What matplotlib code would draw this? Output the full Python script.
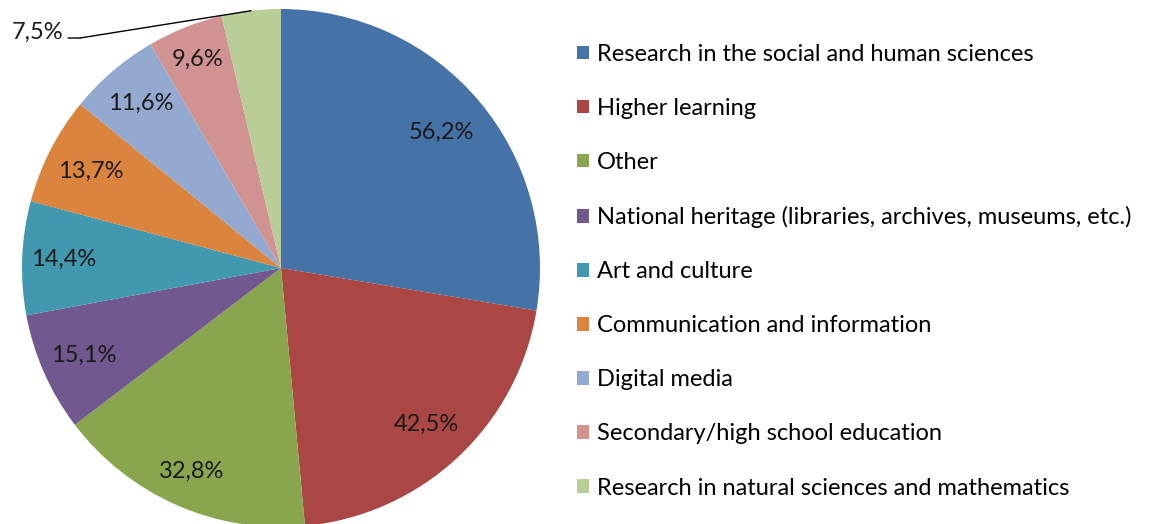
import matplotlib
matplotlib.use("Agg")
import matplotlib.pyplot as plt
import numpy as np

categories = [
    "Research in the social and human sciences",
    "Higher learning",
    "Other",
    "National heritage (libraries, archives, museums, etc.)",
    "Art and culture",
    "Communication and information",
    "Digital media",
    "Secondary/high school education",
    "Research in natural sciences and mathematics",
]
values = [56.2, 42.5, 32.8, 15.1, 14.4, 13.7, 11.6, 9.6, 7.5]
labels = ["56,2%", "42,5%", "32,8%", "15,1%", "14,4%", "13,7%", "11,6%", "9,6%", "7,5%"]
colors = ["#4572A7", "#AA4643", "#89A54E", "#71588F", "#4198AF",
          "#DB843D", "#93A9CF", "#D19392", "#B9CD96"]
# how far from the centre each inside label sits (fraction of radius)
label_dist = [0.813, 0.825, 0.858, 0.835, 0.838, 0.823, 0.834, 0.868]

plt.rcParams['font.family'] = ['Lato', 'DejaVu Sans']

W, H = 1151, 524
fig = plt.figure(figsize=(W / 100, H / 100), dpi=100)
cx, cy, r = 281, 268, 259
ax = fig.add_axes([(cx - r) / W, (H - cy - r) / H, 2 * r / W, 2 * r / H])

wedges, _ = ax.pie(values, colors=colors, startangle=90, counterclock=False,
                   wedgeprops=dict(linewidth=0))

# inside labels
total = sum(values)
cum = np.cumsum([0] + values)
for i, (lab, d) in enumerate(zip(labels[:-1], label_dist)):
    mid = 90 - 360 * (cum[i] + values[i] / 2) / total
    ax.text(d * np.cos(np.radians(mid)), d * np.sin(np.radians(mid)), lab,
            fontsize=17, color="#1a1a1a", ha="center", va="center")

# outside label for the smallest slice, with a leader line
theta = 90 + 0.5 * 360 * values[-1] / total
edge = (np.cos(np.radians(theta)), np.sin(np.radians(theta)))
elbow = ((80 - cx) / r, (cy - 38) / r)
start = ((68 - cx) / r, (cy - 38) / r)
ax.annotate("", xy=edge, xytext=elbow,
            arrowprops=dict(arrowstyle="-", color="black", lw=1, shrinkA=0, shrinkB=0))
ax.annotate("", xy=elbow, xytext=start,
            arrowprops=dict(arrowstyle="-", color="black", lw=1, shrinkA=0, shrinkB=0))
ax.text((63 - cx) / r, (cy - 32) / r, labels[-1], fontsize=17, color="#1a1a1a",
        ha="right", va="center")
ax.set_xlim(-1, 1)
ax.set_ylim(-1, 1)
ax.axis("off")

fig.legend(wedges, categories, loc="upper left", bbox_to_anchor=(577 / W, 1 - 44 / H),
           frameon=False, fontsize=17, handlelength=0.5, handleheight=0.5,
           handletextpad=0.35, labelspacing=1.40, borderaxespad=0, borderpad=0)

fig.savefig("out.png", dpi=100)
